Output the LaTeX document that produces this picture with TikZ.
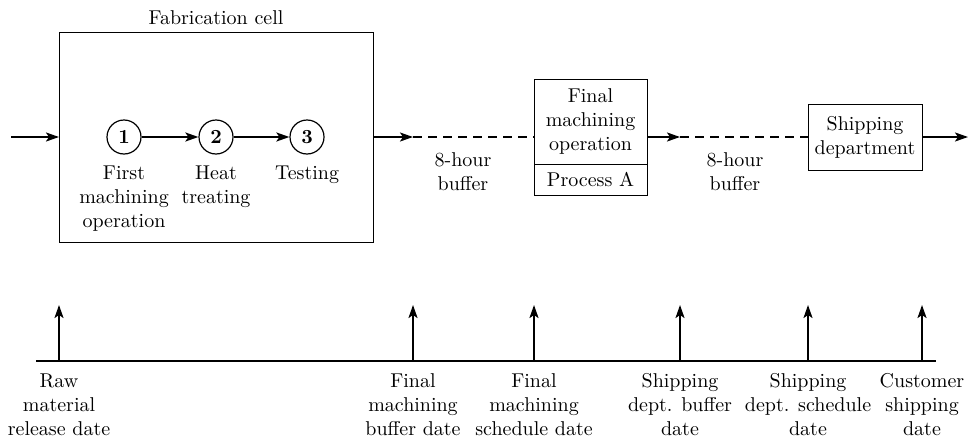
\documentclass[tikz,border=0pt]{standalone}
\usetikzlibrary{positioning,arrows.meta}

\newcommand{\diagfont}{\fontsize{10pt}{12pt}\selectfont}

\tikzset{
  boxnode/.style={draw, line width=0.5pt, outer sep=0pt, inner sep=0pt, align=center},
  station/.style={circle, draw, line width=0.6pt, minimum size=17pt, inner sep=0pt, font=\diagfont\bfseries},
  flow/.style={line width=1pt, -{Stealth[length=6.5pt,width=4.5pt,inset=1.5pt]}},
  buffer/.style={line width=1pt, dash pattern=on 4.5pt off 3pt},
  lbl/.style={align=center, inner sep=0pt}
}

\begin{document}
\begin{tikzpicture}[x=0.5pt, y=-0.5pt, font=\diagfont]
    \useasboundingbox (0,0) rectangle (978,439);

    % Fabrication cell
    \node[boxnode, minimum width=157pt, minimum height=105pt] (fab) at (216,137) {};
    \node[lbl, above=3.5pt of fab] {Fabrication cell};

    \node[station] (c1) at (124,137) {1};
    \node[station] (c2) at (216,137) {2};
    \node[station] (c3) at (307,137) {3};
    \node[lbl, below=5.5pt of c1] {First\\machining\\operation};
    \node[lbl, below=5.5pt of c2] {Heat\\treating};
    \node[lbl, below=5.5pt of c3] {Testing};
    \draw[flow] (c1) -- (c2);
    \draw[flow] (c2) -- (c3);

    % Final machining and shipping
    \node[boxnode, minimum width=56.5pt, minimum height=42.5pt] (fm) at (590.5,121.5) {Final\\machining\\operation};
    \node[boxnode, minimum width=56.5pt, minimum height=15.5pt, below=0pt of fm] (pa) {Process A};
    \node[boxnode, minimum width=57pt, minimum height=33pt] (sd) at (865,137) {Shipping\\department};

    \coordinate (in) at (11,137);
    \coordinate (b1) at (413,137);
    \coordinate (b2) at (680,137);
    \coordinate (out) at (968,137);

    \draw[flow] (in) -- (fab.west);
    \draw[flow] (fab.east) -- (b1);
    \draw[buffer] (b1) -- (b1 -| fm.west);
    \draw[flow] (b2 -| fm.east) -- (b2);
    \draw[buffer] (b2) -- (sd.west);
    \draw[flow] (sd.east) -- (out);

    \node[lbl, anchor=north] (bu1) at (463,152) {8-hour\\buffer};
    \node[lbl, anchor=north] (bu2) at (735,152) {8-hour\\buffer};

    % Time line
    \coordinate (axl) at (36,361);
    \coordinate (axr) at (936,361);
    \draw[line width=0.8pt] (axl) -- (axr);

    \foreach \p/\t [count=\i] in {fab.west/{Raw\\material\\release date},
                                  b1/{Final\\machining\\buffer date},
                                  fm.west/{Final\\machining\\schedule date},
                                  b2/{Shipping\\dept. buffer\\date},
                                  sd.west/{Shipping\\dept. schedule\\date},
                                  sd.east/{Customer\\shipping\\date}} {
        \coordinate (t\i) at (\p |- axl);
        \draw[flow] (t\i) -- ++(0,-56);
        \node[lbl, below=6pt of t\i] (d\i) {\t};
    }
\end{tikzpicture}
\end{document}
